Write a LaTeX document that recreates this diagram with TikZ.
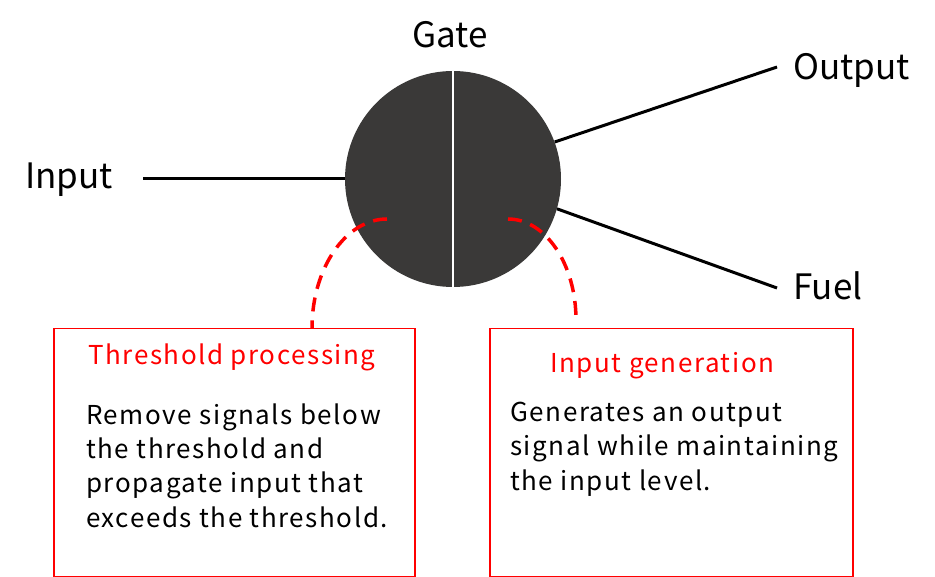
\documentclass[tikz,border=0pt]{standalone}
\usepackage{fontspec}
\setmainfont{Noto Sans CJK JP}
\definecolor{gatecol}{HTML}{3A3938}
\definecolor{redc}{HTML}{FF0000}
\begin{document}
\begin{tikzpicture}[x=1pt,y=-1pt,
  lbl/.style={inner sep=0pt, anchor=base west, font=\fontsize{35}{42}\selectfont},
  wire/.style={line width=3pt, black},
  lead/.style={line width=3.5pt, redc, dash pattern=on 14pt off 9pt},
  infobox/.style={draw=redc, line width=1.5pt, fill=white},
  ttl/.style={inner sep=0pt, anchor=base west, text=redc, font=\fontsize{26}{34}\selectfont\addfontfeature{LetterSpace=6}},
  body/.style={inner sep=0pt, anchor=base west, align=left, font=\fontsize{26}{34.3}\selectfont\addfontfeature{LetterSpace=6}}]
\useasboundingbox (0,0) rectangle (935,577);
\fill[white] (0,0) rectangle (935,577);
% gate
\node[circle, fill=gatecol, minimum size=216pt, inner sep=0pt] (gate) at (453,179) {};
\draw[white, line width=2pt] (gate.north) -- (gate.south);
\node[inner sep=0pt, anchor=base, font=\fontsize{35}{42}\selectfont] (gatelbl) at (450,48) {Gate};
% wires
\coordinate (inend) at (143,179);
\coordinate (outend) at (777,67);
\coordinate (fuelend) at (777,288);
\draw[wire] (inend) -- (gate.west);
\draw[wire] (gate.20) -- (outend);
\draw[wire] (gate.-16) -- (fuelend);
\node[lbl] (inlbl) at (25,189) {Input};
\node[lbl] (outlbl) at (793,80) {Output};
\node[lbl] (fuellbl) at (793,300) {Fuel};
% boxes
\node[infobox, minimum width=361pt, minimum height=248pt, anchor=north west, inner sep=0pt] (boxL) at (53,328) {};
\node[infobox, minimum width=363pt, minimum height=248pt, anchor=north west, inner sep=0pt] (boxR) at (489,328) {};
% leader curves
\coordinate (l1s) at (387,219);
\coordinate (l1e) at (312,328);
\coordinate (l2s) at (508,219);
\coordinate (l2e) at (576,320);
\draw[lead] (l1s) .. controls +(-41,0) and +(0,-60) .. (l1e);
\draw[lead] (l2s) .. controls +(37.5,0) and +(0,-56) .. (l2e);
% texts
\node[ttl] (ttlL) at (88,365) {Threshold processing};
\node[ttl] (ttlR) at (550,373) {Input generation};
\node[body] (bodyL) at (86,527) {Remove signals below\\the threshold and\\propagate input that\\exceeds the threshold.};
\node[body] (bodyR) at (510,490) {Generates an output\\signal while maintaining\\the input level.};
\end{tikzpicture}
\end{document}
